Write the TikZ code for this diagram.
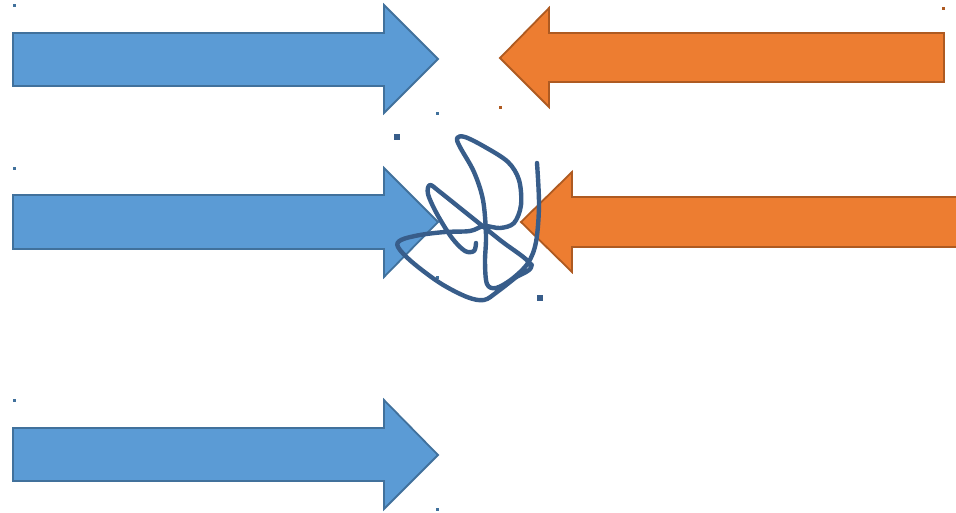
\documentclass[tikz,border=0pt]{standalone}
\definecolor{bfill}{HTML}{5B9BD5}
\definecolor{bline}{HTML}{41719C}
\definecolor{ofill}{HTML}{ED7D31}
\definecolor{oline}{HTML}{AE5A21}
\definecolor{ink}{HTML}{385D8A}
\begin{document}
\begin{tikzpicture}[x=1pt,y=-1pt,
  barrow/.style={fill=bfill,draw=bline,line width=1.8pt,line join=miter},
  oarrow/.style={fill=ofill,draw=oline,line width=1.8pt,line join=miter},
  bdot/.style={fill=bline},
  odot/.style={fill=oline},
  inkdot/.style={fill=ink},
  scribble/.style={draw=ink,line width=4.4pt,line cap=round,line join=round}]
\useasboundingbox (0,0) rectangle (956,512);
\clip (0,0) rectangle (956,512);
% blue arrows
\draw[barrow] (13,33) -- (384,33) -- (384,5) -- (438,59) -- (384,113) -- (384,86) -- (13,86) -- cycle;
\draw[barrow] (13,195) -- (384,195) -- (384,168) -- (438,222) -- (384,277) -- (384,249) -- (13,249) -- cycle;
\draw[barrow] (13,428) -- (384,428) -- (384,400) -- (438,455) -- (384,509) -- (384,481) -- (13,481) -- cycle;
% orange arrows
\draw[oarrow] (944,33) -- (549,33) -- (549,8) -- (500,58) -- (549,107) -- (549,82) -- (944,82) -- cycle;
\draw[oarrow] (975,197) -- (572,197) -- (572,172) -- (521,222) -- (572,272) -- (572,247) -- (975,247) -- cycle;
% small handle dots
\fill[bdot] (12.5,3.5) rectangle ++(3,3);
\fill[bdot] (436,111.5) rectangle ++(3,3);
\fill[bdot] (12.5,166.5) rectangle ++(3,3);
\fill[bdot] (436,275.5) rectangle ++(3,3);
\fill[bdot] (12.5,398.5) rectangle ++(3,3);
\fill[bdot] (436,507.5) rectangle ++(3,3);
\fill[odot] (941.5,6.5) rectangle ++(3,3);
\fill[odot] (498.5,105.5) rectangle ++(3,3);
\fill[odot] (520,270.5) rectangle ++(3,3);
% scribble
\draw[scribble] plot[smooth, tension=0.55] coordinates {
 (537,163) (539,205) (536,242) (528,263) (512,279) (496,288) (487,284)
 (485,262) (486,235) (483,200) (474,172) (460,147) (457,138) (465,137)
 (485,147) (508,162) (519,180) (521,205) (514,223) (500,228) (484,226)
 (470,231) (445,232) (420,235) (401,240) (398,247) (412,262) (440,283)
 (467,297) (484,300) (497,292) (515,278) (531,265) (500,240) (465,212)
 (440,192) (430,185) (428,194) (437,214) (452,238) (465,251) (474,251) (476,243)};
\fill[ink] (531,265) circle (3pt);
% larger handle dots
\fill[inkdot] (394,134) rectangle ++(6,6);
\fill[inkdot] (537,295) rectangle ++(6,6);
\end{tikzpicture}
\end{document}
